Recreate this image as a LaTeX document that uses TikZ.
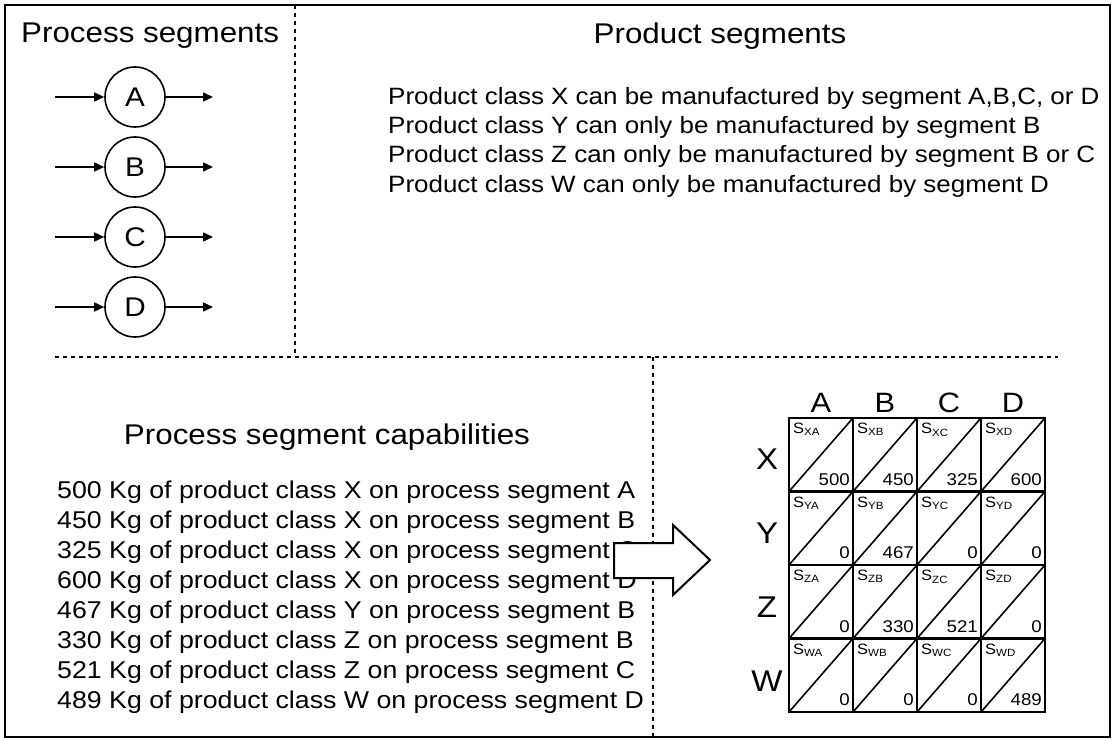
\documentclass[tikz,border=0pt]{standalone}
\usepackage{fontspec}
\setmainfont{Liberation Sans}[FakeStretch=1.1]
\usetikzlibrary{arrows.meta}

\tikzset{
  seg/.style={circle, draw, line width=1.6pt, minimum size=60pt, inner sep=0pt, font=\fontsize{27}{29}\selectfont},
  flow/.style={-{Triangle[length=10pt,width=9pt]}, line width=1.5pt},
  sep/.style={dash pattern=on 4pt off 4pt, line width=1.1pt},
  title/.style={font=\fontsize{28.5}{30}\selectfont},
  body/.style={anchor=west, inner sep=0pt, font=\fontsize{24.3}{26}\selectfont},
  cell/.style={draw, line width=2.4pt, minimum width=64pt, minimum height=73.5pt, inner sep=0pt, outer sep=0pt},
  big/.style={font=\fontsize{30}{32}\selectfont}
}

\begin{document}
\begin{tikzpicture}[x=1pt, y=-1pt, node distance=70pt]
  \useasboundingbox (0,0) rectangle (1117,741);
  % frame and separators
  \draw [line width=1.8pt] (5,5) rectangle (1110,737);
  \draw [sep] (295,5) -- (295,355);
  \draw [sep] (55,357) -- (1058,357);
  \draw [sep] (653,357) -- (653,737);

  % process segments
  \node (pstitle) [title, anchor=west, inner sep=0pt] at (21,36) {Process segments};
  \node (segA) [seg] at (135,97) {A};
  \node (segB) [seg, below of=segA] {B};
  \node (segC) [seg, below of=segB] {C};
  \node (segD) [seg, below of=segC] {D};
  \foreach \s in {A,B,C,D} {
    \coordinate (in\s) at ([xshift=-80pt]seg\s.center);
    \coordinate (out\s) at ([xshift=78pt]seg\s.center);
    \draw [flow] (in\s) -- (seg\s);
    \draw [flow] (seg\s) -- (out\s);
  }

  % product segments
  \node (prtitle) [title] at (720,36) {Product segments};
  \foreach [count=\i from 0] \t in {
      {Product class X can be manufactured by segment A,B,C, or D},
      {Product class Y can only be manufactured by segment B},
      {Product class Z can only be manufactured by segment B or C},
      {Product class W can only be manufactured by segment D}}
    \node (prod\i) [body, font=\fontsize{23.6}{26}\selectfont] at (388,{98+29.3*\i}) {\t};

  % capabilities
  \node (captitle) [title] at (327,437) {Process segment capabilities};
  \foreach [count=\i from 0] \v/\p/\s in {500/X/A, 450/X/B, 325/X/C, 600/X/D,
      467/Y/B, 330/Z/B, 521/Z/C, 489/W/D}
    \node (cap\i) [body] at (57,{492+30.1*\i}) {\v{} Kg of product class \p{} on process segment \s};

  % block arrow
  \draw [line width=2pt, fill=white] (614,543) -- (673,543) -- (673,525) -- (710,560)
    -- (673,595) -- (673,578) -- (614,578) -- cycle;

  % matrix
  \foreach [count=\j from 0] \cl in {A,B,C,D}
    \node (h\cl) [big, font=\fontsize{28}{30}\selectfont] at ({821+64*\j},403) {\cl};
  \foreach [count=\i from 0] \rl/\va/\vb/\vc/\vd in {X/500/450/325/600, Y/0/467/0/0,
      Z/0/330/521/0, W/0/0/0/489} {
    \node (r\rl) [big] at (767,{459+74*\i}) {\rl};
    \foreach [count=\j from 0] \cl/\v in {A/\va, B/\vb, C/\vc, D/\vd} {
      \node (c\rl\cl) [cell] at ({821+64*\j},{454.75+73.5*\i}) {};
      \draw [line width=1.6pt] (c\rl\cl.south west) -- (c\rl\cl.north east);
      \node (s\rl\cl) [anchor=north west, inner sep=0pt, font=\fontsize{15}{16}\selectfont]
        at ([shift={(4,5)}]c\rl\cl.north west) {S\textsubscript{\rl\cl}};
      \node (v\rl\cl) [anchor=south east, inner sep=0pt, font=\fontsize{17}{18}\selectfont]
        at ([shift={(-3,-6)}]c\rl\cl.south east) {\v};
    }
  }
\end{tikzpicture}
\end{document}
